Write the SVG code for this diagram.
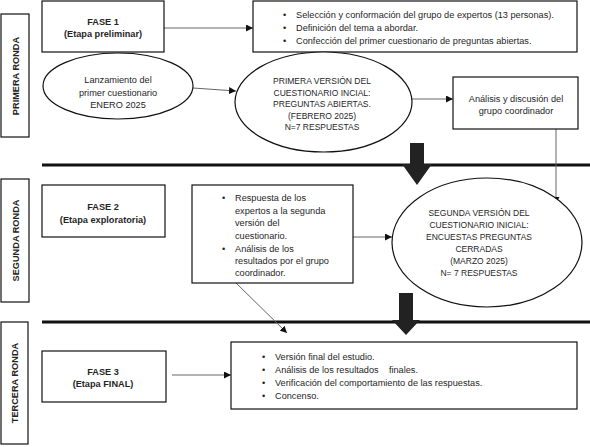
<svg xmlns="http://www.w3.org/2000/svg" width="590" height="447" viewBox="0 0 590 447">
<defs>
<style>
.box{fill:#fff;stroke:#111;stroke-width:1.2}
.t{font-family:"Liberation Sans",Arial,sans-serif;font-size:9.2px;fill:#1f261f}
.c{text-anchor:middle}
.b{font-weight:bold}
.cap{font-size:8.5px}
.con{stroke:#666;stroke-width:1;fill:none}
.thick{stroke:#111;stroke-width:3}
.big{fill:#222}
</style>
<marker id="ah" viewBox="0 0 10 10" refX="10" refY="5" markerWidth="7" markerHeight="7" markerUnits="userSpaceOnUse" orient="auto">
<path d="M0,0 L10,5 L0,10 z" fill="#111"/>
</marker>
</defs>
<rect width="590" height="447" fill="#fff"/>

<g id="rondas">
<g id="primera-ronda"><rect class="box" x="1" y="14" width="28" height="123"/>
<text class="t b c" transform="translate(18.5,76) rotate(-90)">PRIMERA RONDA</text></g>
<g id="segunda-ronda"><rect class="box" x="1" y="179" width="28" height="123"/>
<text class="t b c" transform="translate(18.5,240.5) rotate(-90)">SEGUNDA RONDA</text></g>
<g id="tercera-ronda"><rect class="box" x="1" y="322" width="27" height="122"/>
<text class="t b c" transform="translate(18,383) rotate(-90)">TERCERA RONDA</text></g>
</g>

<g id="separadores">
<line class="thick" x1="42" y1="165" x2="590" y2="165"/>
<line class="thick" x1="42" y1="322" x2="590" y2="322"/>
</g>

<g id="connectors">
<line class="con" x1="164" y1="28" x2="253" y2="28" marker-end="url(#ah)"/>
<line class="con" x1="193" y1="88" x2="236" y2="91" marker-end="url(#ah)"/>
<line class="con" x1="412" y1="99" x2="453" y2="99" marker-end="url(#ah)"/>
<line class="con" x1="556" y1="129" x2="556" y2="204" marker-end="url(#ah)"/>
<line class="con" x1="353" y1="237" x2="392" y2="237" marker-end="url(#ah)"/>
<line class="con" x1="236" y1="283" x2="287" y2="333" marker-end="url(#ah)"/>
<line class="con" x1="172" y1="375" x2="231" y2="375" marker-end="url(#ah)"/>
<path class="big" d="M410,143 H424 V164 H432 L417,185 L402,164 H410 Z"/>
<path class="big" d="M399,293 H413 V320 H420 L406,335 L392,320 H399 Z"/>
</g>

<g id="fase1"><rect class="box" x="42" y="1" width="122" height="51"/>
<text class="t b c" x="103" y="25">FASE 1</text>
<text class="t b c" x="103" y="37">(Etapa preliminar)</text></g>

<g id="tareas1"><rect class="box" x="253" y="1" width="324" height="51"/>
<g class="t">
<text x="283" y="18">•</text><text x="296" y="18">Selección y conformación del grupo de expertos (13 personas).</text>
<text x="283" y="31">•</text><text x="296" y="31">Definición del tema a abordar.</text>
<text x="283" y="44">•</text><text x="296" y="44">Confección del primer cuestionario de preguntas abiertas.</text>
</g></g>

<g id="lanzamiento"><ellipse class="box" cx="118" cy="86" rx="75" ry="33"/>
<text class="t c" x="118" y="83">Lanzamiento del</text>
<text class="t c" x="118" y="95.5">primer cuestionario</text>
<text class="t c" x="118" y="108">ENERO 2025</text></g>

<g id="primera-version"><ellipse class="box" cx="323.5" cy="102" rx="88.5" ry="50"/>
<g class="t c cap">
<text x="322" y="84">PRIMERA VERSIÓN DEL</text>
<text x="322" y="95.5">CUESTIONARIO INCIAL:</text>
<text x="322" y="107">PREGUNTAS ABIERTAS.</text>
<text x="322" y="118.5">(FEBRERO 2025)</text>
<text x="322" y="130">N=7 RESPUESTAS</text>
</g></g>

<g id="analisis1"><rect class="box" x="453" y="77" width="125" height="52"/>
<text class="t c" x="516" y="102">Análisis y discusión del</text>
<text class="t c" x="516" y="114">grupo coordinador</text></g>

<g id="fase2"><rect class="box" x="42" y="185" width="123" height="52"/>
<text class="t b c" x="103" y="210">FASE 2</text>
<text class="t b c" x="103" y="223">(Etapa exploratoria)</text></g>

<g id="tareas2"><rect class="box" x="192" y="185" width="161" height="98"/>
<g class="t">
<text x="222" y="201">•</text><text x="235" y="201">Respuesta de los</text>
<text x="235" y="214">expertos a la segunda</text>
<text x="235" y="226">versión del</text>
<text x="235" y="239">cuestionario.</text>
<text x="222" y="252">•</text><text x="235" y="252">Análisis de los</text>
<text x="235" y="264">resultados por el grupo</text>
<text x="235" y="276">coordinador.</text>
</g></g>

<g id="segunda-version"><ellipse class="box" cx="487" cy="242.5" rx="95" ry="64.5"/>
<g class="t c cap">
<text x="479" y="215.5">SEGUNDA VERSIÓN DEL</text>
<text x="479" y="227.5">CUESTIONARIO INICIAL:</text>
<text x="479" y="240">ENCUESTAS PREGUNTAS</text>
<text x="479" y="251.5">CERRADAS</text>
<text x="479" y="263.5">(MARZO 2025)</text>
<text x="479" y="275.5">N= 7 RESPUESTAS</text>
</g></g>

<g id="fase3"><rect class="box" x="42" y="351" width="124" height="51"/>
<text class="t b c" x="103" y="375">FASE 3</text>
<text class="t b c" x="103" y="387">(Etapa FINAL)</text></g>

<g id="tareas3"><rect class="box" x="231" y="342" width="346" height="67"/>
<g class="t">
<text x="262" y="360">•</text><text x="275" y="360">Versión final del estudio.</text>
<text x="262" y="373">•</text><text x="275" y="373">Análisis de los resultados&#160;&#160;&#160; finales.</text>
<text x="262" y="386">•</text><text x="275" y="386">Verificación del comportamiento de las respuestas.</text>
<text x="262" y="399">•</text><text x="275" y="399">Concenso.</text>
</g></g>
</svg>
